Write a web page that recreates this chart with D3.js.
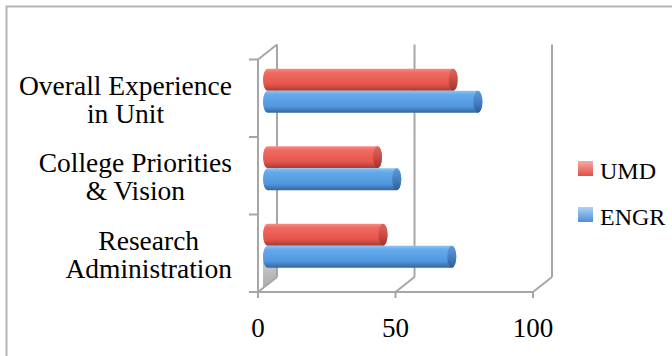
<!DOCTYPE html>
<html>
<head>
    <meta charset="utf-8">
    <title>Survey comparison</title>
    <script src="https://d3js.org/d3.v7.min.js"></script>
    <style>
        body { margin: 0; background: #fff; }
        text { font-family: "Liberation Serif", "Times New Roman", serif; fill: #000; }
        .frame line, .frame path { stroke: #a6a6a6; stroke-width: 2; fill: none; }
    </style>
</head>
<body>
    <div id="chart"></div>

    <script>
        // data, top to bottom
        const categories = ["Overall Experience in Unit", "College Priorities & Vision", "Research Administration"];
        const categoryLines = [["Overall Experience", "in Unit"], ["College Priorities", "& Vision"], ["Research", "Administration"]];
        const seriesNames = ["UMD", "ENGR"];
        const umdValues = [67.5, 40, 42];
        const engrValues = [76.5, 47, 67];
        const xTicks = [0, 50, 100];

        const width = 672;
        const height = 356;

        const svg = d3.select("#chart")
            .append("svg")
            .attr("width", width)
            .attr("height", height);

        // outer chart border
        svg.append("rect")
            .attr("x", 6.5).attr("y", 6.5)
            .attr("width", width).attr("height", height)
            .attr("fill", "none")
            .attr("stroke", "#b4b4b4")
            .attr("stroke-width", 2);

        // scales (front plane of the 3d box)
        const x = d3.scaleLinear().domain([0, 100]).range([258, 533]);
        const yStep = d3.scaleBand().domain(categories).range([59.5, 292]);
        const yBar = d3.scaleBand().domain(categories).range([59.5, 292])
            .paddingInner(0.43).paddingOuter(0.215);
        const ySeries = d3.scaleBand().domain(seriesNames).range([0, yBar.bandwidth()]);
        const depthX = 19, depthY = -15;
        const yTop = yStep.range()[0], yBottom = yStep.range()[1];

        // gradients
        const defs = svg.append("defs");
        function grad(id, stops) {
            const g = defs.append("linearGradient").attr("id", id)
                .attr("x1", 0).attr("y1", 0).attr("x2", 0).attr("y2", 1);
            stops.forEach(s => g.append("stop").attr("offset", s[0]).attr("stop-color", s[1]));
        }
        grad("gUMD", [[0, "#f39086"], [0.18, "#f06a5f"], [0.7, "#e6564c"], [1, "#a63a33"]]);
        grad("gENGR", [[0, "#8cc3f4"], [0.18, "#62aaec"], [0.7, "#5398df"], [1, "#33659f"]]);
        grad("cUMD", [[0, "#e0665d"], [0.5, "#cc4c44"], [1, "#9a352f"]]);
        grad("cENGR", [[0, "#5f9ad8"], [0.5, "#4680c2"], [1, "#2f5d93"]]);
        grad("lUMD", [[0, "#f7aaa3"], [1, "#de4f47"]]);
        grad("lENGR", [[0, "#b0d2f6"], [1, "#4e8dd4"]]);
        grad("gWall", [[0, "#d4d4d4"], [1, "#ababab"]]);

        const frame = svg.append("g").attr("class", "frame");

        // small shaded piece of the side wall, above the floor diagonal
        const wx0 = x(0) + 5, wx1 = x(0) + depthX;
        frame.append("path")
            .attr("d", `M${wx0},${yBottom - 40} L${wx1},${yBottom - 40} L${wx1},${yBottom + depthY} L${wx0},${yBottom + depthY * 5 / depthX} Z`)
            .style("fill", "url(#gWall)")
            .style("stroke", "none");

        // back wall gridlines
        xTicks.forEach(t => {
            frame.append("line")
                .attr("x1", x(t) + depthX).attr("x2", x(t) + depthX)
                .attr("y1", yTop + depthY).attr("y2", yBottom + depthY);
            // floor diagonals
            frame.append("line")
                .attr("x1", x(t)).attr("y1", yBottom)
                .attr("x2", x(t) + depthX).attr("y2", yBottom + depthY);
            // bottom tick marks
            frame.append("line")
                .attr("x1", x(t)).attr("x2", x(t))
                .attr("y1", yBottom).attr("y2", yBottom + 6);
        });

        // front left axis + top diagonal
        frame.append("line")
            .attr("x1", x(0)).attr("x2", x(0))
            .attr("y1", yTop).attr("y2", yBottom);
        frame.append("line")
            .attr("x1", x(0)).attr("y1", yTop)
            .attr("x2", x(0) + depthX).attr("y2", yTop + depthY);
        // floor front edge
        frame.append("line")
            .attr("x1", x(0) - 9).attr("x2", x(100))
            .attr("y1", yBottom).attr("y2", yBottom);
        // category tick marks
        categories.concat([null]).forEach(c => {
            const yy = c === null ? yBottom : yStep(c);
            frame.append("line")
                .attr("x1", x(0) - 9).attr("x2", x(0))
                .attr("y1", yy).attr("y2", yy);
        });

        // cylinders
        const bars = [];
        categories.forEach((c, i) => {
            bars.push({ cat: c, s: "UMD", v: umdValues[i] });
            bars.push({ cat: c, s: "ENGR", v: engrValues[i] });
        });
        const rx = 4.5;
        const barG = svg.append("g");
        bars.forEach(b => {
            const x0 = x(0) + depthX / 2;
            const x1 = x(b.v) + depthX / 2;
            const yt = yBar(b.cat) + ySeries(b.s) + depthY / 2;
            const h = ySeries.bandwidth();
            const ry = h / 2;
            barG.append("path")
                .attr("d", `M${x0},${yt} L${x1},${yt} A${rx},${ry} 0 0 1 ${x1},${yt + h} L${x0},${yt + h} A${rx},${ry} 0 0 1 ${x0},${yt} Z`)
                .attr("fill", `url(#g${b.s})`);
            barG.append("ellipse")
                .attr("cx", x1).attr("cy", yt + ry)
                .attr("rx", rx).attr("ry", ry)
                .attr("fill", `url(#c${b.s})`);
        });

        // x tick labels
        svg.append("g").selectAll("text")
            .data(xTicks)
            .enter().append("text")
            .attr("x", d => x(d))
            .attr("y", 336.5)
            .attr("text-anchor", "middle")
            .style("font-size", "27px")
            .text(d => d);

        // category labels, centred block right-aligned at 232
        const labelRight = 232;
        categories.forEach((c, i) => {
            const cy = yStep(c) + yStep.bandwidth() / 2;
            const g = svg.append("g");
            const texts = categoryLines[i].map((line, j) =>
                g.append("text")
                    .attr("y", cy - 3.7 + j * 28)
                    .attr("text-anchor", "middle")
                    .style("font-size", "27.5px")
                    .text(line));
            const maxW = d3.max(texts, t => t.node().getComputedTextLength());
            texts.forEach(t => t.attr("x", labelRight - maxW / 2));
        });

        // legend
        const legend = svg.append("g");
        seriesNames.forEach((s, i) => {
            const ly = 161 + i * 46;
            legend.append("rect")
                .attr("x", 578).attr("y", ly)
                .attr("width", 15).attr("height", 15)
                .attr("fill", `url(#l${s})`);
            legend.append("text")
                .attr("x", 600).attr("y", ly + 17.5)
                .style("font-size", "24px")
                .text(s);
        });
    </script>
</body>
</html>
